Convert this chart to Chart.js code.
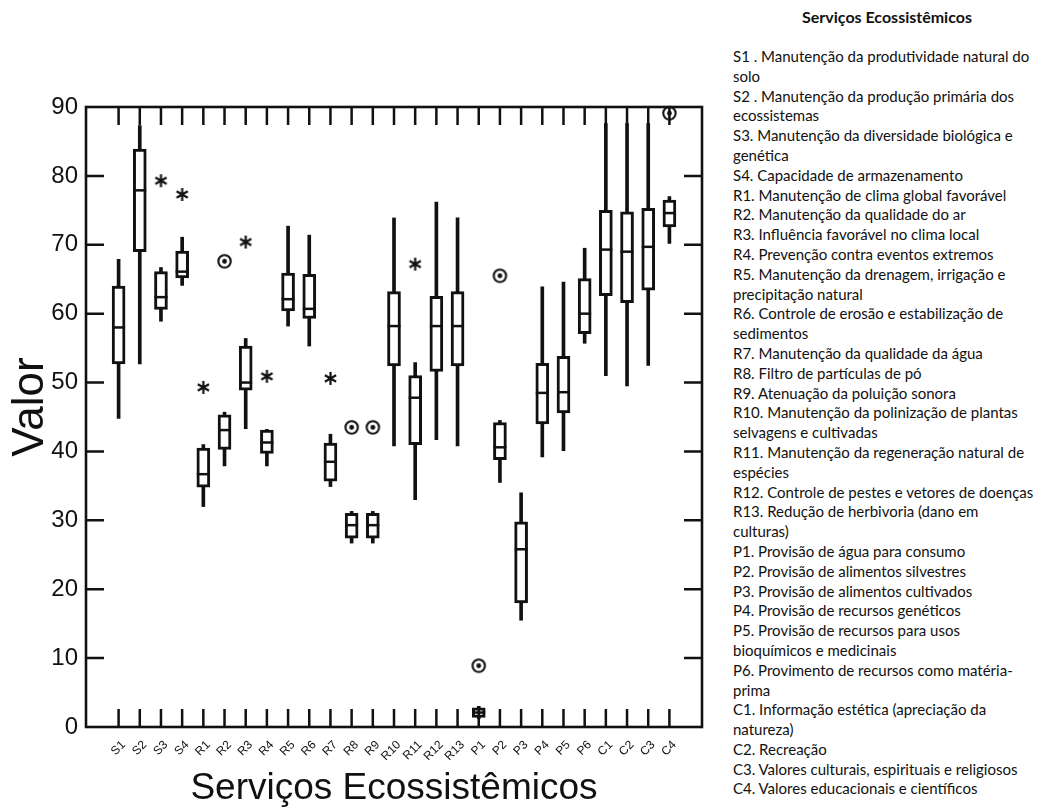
<!DOCTYPE html>
<html lang="pt">
<head>
<meta charset="utf-8">
<title>Serviços Ecossistêmicos</title>
<script src="https://cdn.jsdelivr.net/npm/chart.js@4.4.1/dist/chart.umd.min.js"></script>
<style>
  html, body { margin: 0; padding: 0; background: #fff; }
  #wrap { position: relative; width: 1041px; height: 811px; overflow: hidden; background: #fff; }
  #plot { position: absolute; left: 0; top: 0; width: 720px; height: 811px; }
  #legend { position: absolute; left: 733px; top: 0; width: 308px; color: #111;
            font-family: Lato, 'Open Sans', sans-serif; }
  #legend h2 { position: absolute; left: 0; top: 6px; width: 308px; margin: 0;
               text-align: center; font-size: 16px; font-weight: bold; line-height: 22px; }
  #legend ul { position: absolute; left: 0; top: 47px; margin: 0; padding: 0; list-style: none;
               font-size: 15px; line-height: 19.8px; white-space: nowrap; }
</style>
</head>
<body>
<div id="wrap">
  <div id="plot"><canvas id="chart"></canvas></div>
  <div id="legend">
    <h2>Serviços Ecossistêmicos</h2>
    <ul id="legendList"></ul>
  </div>
</div>
<script>
// Service codes along the x axis
const categories = ['S1', 'S2', 'S3', 'S4',
  'R1', 'R2', 'R3', 'R4', 'R5', 'R6', 'R7', 'R8', 'R9', 'R10', 'R11', 'R12', 'R13',
  'P1', 'P2', 'P3', 'P4', 'P5', 'P6',
  'C1', 'C2', 'C3', 'C4'];

// Five-number summaries per service
const whiskerLow  = [44.8, 52.7, 58.9, 64.1, 32.0, 37.9, 43.3, 37.9, 58.2, 55.3, 34.9, 26.7, 26.7, 40.8, 33.0, 41.7, 40.8,  1.2, 35.5, 15.5, 39.2, 40.1, 55.7, 51.0, 49.5, 52.5, 70.2];
const quartile1   = [52.7, 69.0, 60.6, 65.2, 34.8, 40.3, 48.9, 39.7, 60.4, 59.3, 35.7, 27.4, 27.4, 52.4, 41.0, 51.6, 52.4,  1.4, 38.8, 18.0, 44.0, 45.6, 57.1, 62.6, 61.6, 63.4, 72.6];
const medians     = [58.0, 77.9, 62.4, 66.1, 36.7, 43.1, 50.0, 41.3, 62.1, 60.7, 38.5, 29.3, 29.3, 58.2, 47.8, 58.2, 58.2,  2.1, 40.6, 25.8, 48.5, 48.6, 60.0, 69.3, 69.0, 69.7, 74.6];
const quartile3   = [64.0, 83.9, 66.1, 69.1, 40.5, 45.3, 55.3, 43.1, 65.9, 65.7, 41.2, 31.0, 31.0, 63.2, 51.0, 62.5, 63.2,  2.8, 44.2, 29.8, 52.8, 53.8, 65.1, 75.0, 74.8, 75.3, 76.5];
const whiskerHigh = [67.9, 87.3, 66.7, 71.1, 41.0, 45.7, 56.4, 43.2, 72.7, 71.4, 42.5, 31.3, 31.3, 73.9, 52.9, 76.2, 73.9,  3.0, 44.5, 34.0, 63.9, 64.6, 69.5, 87.6, 87.6, 87.6, 77.0];

// Extreme values (asterisk markers)
const extremeCats   = ['S3', 'S4', 'R1', 'R3', 'R4', 'R7', 'R11'];
const extremeValues = [79.3, 77.3, 49.3, 70.4, 50.9, 50.6, 67.2];

// Outliers (circle markers)
const outlierCats   = ['R2', 'R8', 'R9', 'P1', 'P2', 'C4'];
const outlierValues = [67.6, 43.5, 43.5, 8.9, 65.5, 89.1];

// Y axis tick values
const yTicks = [0, 10, 20, 30, 40, 50, 60, 70, 80, 90];

// Axis titles
const xTitle = 'Serviços Ecossistêmicos';
const yTitle = 'Valor';

// Key to the service codes
const legendLines = [
  'S1 . Manutenção da produtividade natural do',
  'solo',
  'S2 . Manutenção da produção primária dos',
  'ecossistemas',
  'S3. Manutenção da diversidade biológica e',
  'genética',
  'S4. Capacidade de armazenamento',
  'R1. Manutenção de clima global favorável',
  'R2. Manutenção da qualidade do ar',
  'R3. Influência favorável  no clima local',
  'R4. Prevenção contra eventos extremos',
  'R5. Manutenção da drenagem, irrigação e',
  'precipitação natural',
  'R6. Controle de erosão e estabilização de',
  'sedimentos',
  'R7. Manutenção da qualidade da água',
  'R8. Filtro de partículas de pó',
  'R9. Atenuação da poluição sonora',
  'R10. Manutenção da polinização de plantas',
  'selvagens e cultivadas',
  'R11. Manutenção da regeneração natural de',
  'espécies',
  'R12. Controle de pestes e vetores de doenças',
  'R13. Redução de herbivoria (dano em',
  'culturas)',
  'P1. Provisão de água para consumo',
  'P2. Provisão de alimentos silvestres',
  'P3. Provisão de alimentos cultivados',
  'P4. Provisão de recursos genéticos',
  'P5. Provisão de recursos para usos',
  'bioquímicos e medicinais',
  'P6. Provimento de recursos como matéria-',
  'prima',
  'C1. Informação estética (apreciação da',
  'natureza)',
  'C2. Recreação',
  'C3. Valores culturais, espirituais e religiosos',
  'C4. Valores educacionais e científicos'
];

const INK = '#111';
const AXIS_FONT = "'Liberation Sans', Arial, sans-serif";
const TICK_LEN = 18;

const list = document.getElementById('legendList');
legendLines.forEach(t => {
  const li = document.createElement('li');
  li.textContent = t;
  list.appendChild(li);
});

// position of a category on the linear x scale (1..27, frame spans 0..28)
const xOf = c => categories.indexOf(c) + 1;

// marker glyphs
function asteriskGlyph() {
  const c = document.createElement('canvas');
  c.width = 17; c.height = 17;
  const g = c.getContext('2d');
  g.strokeStyle = INK; g.lineWidth = 2.2; g.lineCap = 'butt';
  const r = 6.5, cx = 8.5, cy = 8.5;
  g.beginPath();
  [90, 30, 150].forEach(deg => {
    const a = deg * Math.PI / 180;
    g.moveTo(cx + r * Math.cos(a), cy - r * Math.sin(a));
    g.lineTo(cx - r * Math.cos(a), cy + r * Math.sin(a));
  });
  g.stroke();
  return c;
}
function ringGlyph() {
  const c = document.createElement('canvas');
  c.width = 17; c.height = 17;
  const g = c.getContext('2d');
  g.strokeStyle = INK; g.fillStyle = INK; g.lineWidth = 2.1;
  g.beginPath(); g.arc(8.5, 8.5, 6.2, 0, Math.PI * 2); g.stroke();
  g.beginPath(); g.arc(8.5, 8.5, 2.4, 0, Math.PI * 2); g.fill();
  return c;
}

// frame around the plot with inward tick marks on all four sides,
// slanted category labels and the vertical axis title
const frameTicks = {
  id: 'frameTicks',
  afterDatasetsDraw(chart) {
    const { ctx, chartArea: a, scales: { x, y } } = chart;
    ctx.save();
    ctx.strokeStyle = INK;
    ctx.lineWidth = 2.5;
    ctx.beginPath();
    categories.forEach((c, i) => {
      const px = x.getPixelForValue(i + 1);
      ctx.moveTo(px, a.top); ctx.lineTo(px, a.top + TICK_LEN);
      ctx.moveTo(px, a.bottom); ctx.lineTo(px, a.bottom - TICK_LEN);
    });
    yTicks.forEach(v => {
      if (v <= y.min || v >= y.max) return;
      const py = y.getPixelForValue(v);
      ctx.moveTo(a.left, py); ctx.lineTo(a.left + TICK_LEN, py);
      ctx.moveTo(a.right, py); ctx.lineTo(a.right - TICK_LEN, py);
    });
    ctx.stroke();
    ctx.lineWidth = 2.6;
    ctx.strokeRect(a.left, a.top, a.right - a.left, a.bottom - a.top);

    // category labels, slanted 45 degrees
    ctx.fillStyle = INK;
    ctx.font = '12px ' + AXIS_FONT;
    ctx.textAlign = 'right';
    ctx.textBaseline = 'middle';
    categories.forEach((c, i) => {
      const px = x.getPixelForValue(i + 1);
      ctx.save();
      ctx.translate(px + 5, a.bottom + 16);
      ctx.rotate(-Math.PI / 4);
      ctx.fillText(c, 0, 0);
      ctx.restore();
    });

    // vertical axis title
    ctx.save();
    ctx.font = '44px ' + AXIS_FONT;
    ctx.textAlign = 'center';
    ctx.textBaseline = 'alphabetic';
    ctx.translate(43, (a.top + a.bottom) / 2 - 10);
    ctx.rotate(-Math.PI / 2);
    ctx.fillText(yTitle, 0, 0);
    ctx.restore();
    ctx.restore();
  }
};

const whiskerData = categories.map((c, i) => ({ x: i + 1, y: [whiskerLow[i], whiskerHigh[i]] }));
const boxData     = categories.map((c, i) => ({ x: i + 1, y: [quartile1[i], quartile3[i]] }));
const medianData  = categories.map((c, i) => ({ x: i + 1, y: medians[i] }));
const extremeData = extremeCats.map((c, i) => ({ x: xOf(c), y: extremeValues[i] }));
const outlierData = outlierCats.map((c, i) => ({ x: xOf(c), y: outlierValues[i] }));

new Chart(document.getElementById('chart'), {
  type: 'bar',
  data: {
    datasets: [
      { type: 'bar', data: whiskerData, backgroundColor: INK, borderWidth: 0,
        barThickness: 3, grouped: false, order: 4 },
      { type: 'bar', data: boxData, backgroundColor: '#fff', borderColor: INK, borderWidth: 3,
        borderSkipped: false, barThickness: 13, grouped: false, order: 3 },
      { type: 'line', data: medianData, showLine: false, pointStyle: 'line', pointRadius: 6.5,
        pointBorderWidth: 2.5, pointBorderColor: INK, order: 2 },
      { type: 'line', data: extremeData, showLine: false, pointStyle: asteriskGlyph(),
        clip: false, order: 1 },
      { type: 'line', data: outlierData, showLine: false, pointStyle: ringGlyph(),
        clip: false, order: 1 }
    ]
  },
  options: {
    responsive: true,
    maintainAspectRatio: false,
    animation: false,
    events: [],
    layout: { padding: { top: 107, right: 18, left: 0, bottom: 0 } },
    plugins: { legend: { display: false }, tooltip: { enabled: false } },
    scales: {
      x: {
        type: 'linear', min: 0, max: 28,
        grid: { display: false, drawTicks: false },
        border: { display: false },
        afterBuildTicks(scale) { scale.ticks = categories.map((c, i) => ({ value: i + 1 })); },
        afterFit(scale) { scale.height = 84; },
        ticks: { display: false },
        title: { display: true, text: xTitle, color: INK,
                 font: { family: AXIS_FONT, size: 37 }, padding: { top: 0, bottom: 0.5 } }
      },
      y: {
        min: 0, max: 90,
        grid: { display: false, drawTicks: false },
        border: { display: false },
        afterBuildTicks(scale) { scale.ticks = yTicks.map(v => ({ value: v })); },
        afterFit(scale) { scale.width = 86; },
        ticks: { padding: 8, color: INK, font: { family: AXIS_FONT, size: 24 } },
        title: { display: false }
      }
    }
  },
  plugins: [frameTicks]
});
</script>
</body>
</html>
